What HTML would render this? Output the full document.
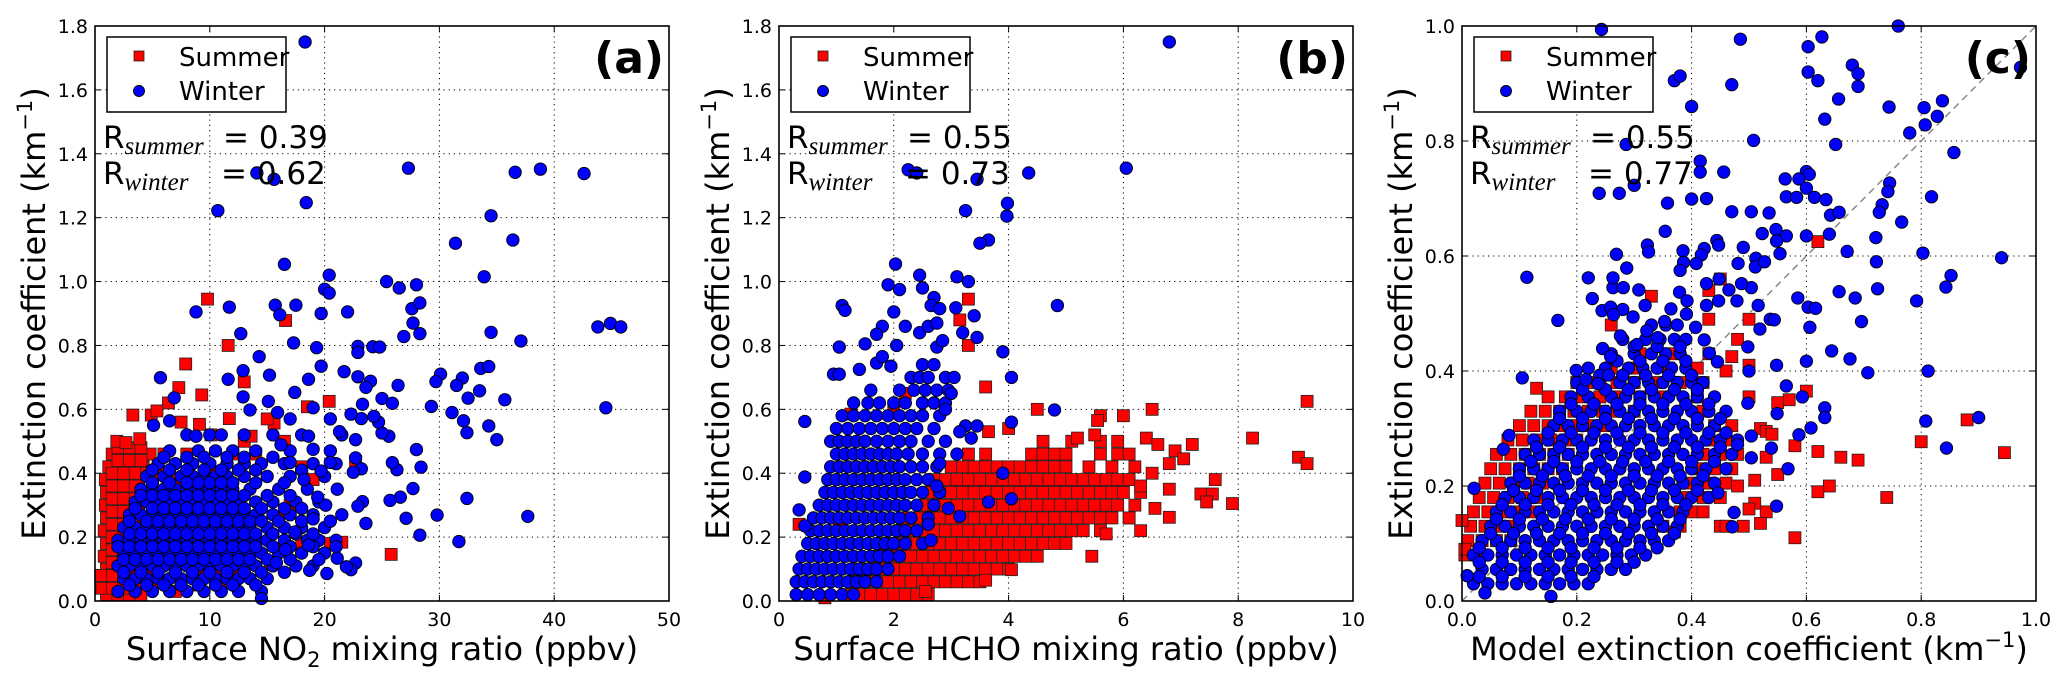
<!DOCTYPE html>
<html><head><meta charset="utf-8"><style>
html,body{margin:0;padding:0;background:#fff}
svg{display:block}
text{font-family:"DejaVu Sans","Liberation Sans",sans-serif;fill:#000}
</style></head><body>
<svg id="fig" width="2067" height="683" viewBox="0 0 2067 683" xmlns="http://www.w3.org/2000/svg"></svg>
<script>
// ---------- DATA ----------
// Panel (a): Surface NO2 (ppbv) vs extinction
const aSummerRows = [
 ".02|1 2 3 4", ".06|0.8 1.8 2.8 3.8 5", ".10|1 2 3 4 7 9 11", ".14|0.8 1.8 2.8 3.8 5.5 8", ".18|1 2 3 4.5 6 10 14 18 20.5",
 ".22|0.8 1.8 2.8 3.8 5 7", ".26|1 2 3 4 6 9 16", ".30|0.9 1.8 2.8 3.8 5 8 17", ".34|1 2 3 4.2 6 11",
 ".38|0.9 1.8 2.8 3.8 5 7 9 19", ".42|1.2 2.2 3.2 4.2 5.5 10 18", ".46|1.5 2.5 3.5 4.8 6 8 12 14", ".50|13 16.5",
 ".04|0.6 1.5 2.5 3.5", ".08|0.6 1.5 2.5 3.5 4.5", ".12|1.5 2.5 3.5 4.5", ".16|1.5 2.5 3.5", ".20|1.5 2.5 3.5",
 ".24|1.5 2.5 3.5 4.5", ".28|1.5 2.5 3.5", ".32|1.5 2.5 3.5 4.5", ".36|1.5 2.5 3.5", ".40|1.5 2.5 3.5 4.5", ".44|2 3 4", ".48|2 3 4"
];
const aSummerPts = "9.8,0.945 16.6,0.878 11.6,0.80 7.9,0.742 7.3,0.668 13,0.686 9.3,0.645 6.4,0.62 18.5,0.608 3.3,0.582 4.9,0.582 5.4,0.595 7.5,0.56 11.7,0.571 20.4,0.625 25.8,0.146 21.5,0.184 18.6,0.182 16.5,0.164 15.3,0.113 22.7,0.437 1.9,0.5 2.7,0.496 3.9,0.508 0.5,0.08 9.1,0.553 10.1,0.52 13.6,0.516 15.6,0.557 15,0.57 12,0.08 11,0.06 9,0.05 7,0.03";
const aWinterRows = [
 ".03|2 3.5 5 6.5 8 9.5 11 12.5 14.5", ".07|2.5 3.5 4.5 5.5 6.5 7.5 8.5 9.5 10.5 11.5 12.5 13.5 15",
 ".11|2 3 4 5 6 7 8 9 10 11 12 13 14 15.5 17.5 19", ".15|2.5 3.5 4.5 5.5 6.5 7.5 8.5 9.5 10.5 11.5 12.5 13.5 14.5 16 18 20",
 ".19|2 3 4 5 6 7 8 9 10 11 12 13 14 15 16.5 18.5 19.5 21", ".23|2.5 3.5 4.5 5.5 6.5 7.5 8.5 9.5 10.5 11.5 12.5 13.5 15 16.5 18 20",
 ".27|3 4 5 6 7 8 9 10 11 12 13 14 15.5 17 19", ".31|3.5 4.5 5.5 6.5 7.5 8.5 9.5 10.5 11.5 12.5 14 15.5 17.5 19.5",
 ".35|4 5 6 7 8 9 10 11 12 13.5 16 18.5", ".39|4.5 6 7.5 8.5 9.5 10.5 11.5 13 15 17 20",
 ".43|5.5 7 8.5 10 11.5 13 14.5 16.5 19 21", ".47|6.5 9 10.5 12 14 17 20.5", ".52|8 10 11 13 15.5 18 21.5",
 ".05|3 4.5 6 7.5 9 10.5 12 14", ".09|2.5 4 5.5 7 8.5 10 11.5 13 14.5 16.5",
 ".13|2.5 3.5 4.5 5.5 6.5 7.5 8.5 9.5 10.5 11.5 12.5 13.5 15 17 19.5",
 ".17|2 3 4 5 6 7 8 9 10 11 12 13 14 15.5 17 19 21", ".21|3 4 5 6 7 8 9 10 11 12 13 14 15.5 17.5 19",
 ".25|3 4.5 5.5 6.5 7.5 8.5 9.5 10.5 11.5 12.5 13.5 14.5 16 18 20.5", ".29|3.5 5 6 7 8 9 10 11 12 13 14.5 16.5 18",
 ".33|4 5 6 7 8 9 10 11 12 13 15 17", ".37|5 6.5 8 9 10 11 12 14 16.5", ".41|5 6.5 8 9.5 11 12.5 14 18", ".45|6 8 9.5 11.5 13 15.5"
];
const aWinterPts = "18.3,1.75 27.3,1.355 36.6,1.342 38.8,1.352 42.6,1.338 14.1,1.34 15.6,1.32 18.4,1.247 10.7,1.222 34.5,1.206 31.4,1.12 36.4,1.13 16.5,1.054 33.9,1.015 20.4,1.02 25.4,1.0 26.5,0.98 28,0.99 20,0.976 20.4,0.964 8.8,0.905 11.7,0.92 15.7,0.926 17.5,0.926 16.1,0.896 19.7,0.9 22,0.905 27.6,0.915 28.3,0.933 27.7,0.87 28.3,0.837 26.9,0.828 43.8,0.858 44.9,0.869 45.8,0.858 34.5,0.841 37.1,0.814 44.5,0.605 12.7,0.837 14.3,0.765 15.2,0.707 17.3,0.808 19.3,0.793 22.9,0.797 24.2,0.796 24.8,0.795 22.9,0.778 21.7,0.718 33.6,0.728 34.3,0.734 30.1,0.71 29.7,0.687 32,0.698 31.5,0.675 26.4,0.675 32.5,0.635 33.5,0.658 35.7,0.63 31.1,0.59 29.3,0.609 32.1,0.564 32.4,0.527 34.3,0.548 35,0.505 32.4,0.321 29.8,0.269 31.7,0.186 37.7,0.265 28.3,0.206 28.4,0.419 28,0.474 27.7,0.352 27.1,0.259 26.6,0.325 25.7,0.315 26.3,0.411 25.9,0.433 25.6,0.516 25,0.526 24.7,0.56 25,0.634 25.9,0.619 23.3,0.616 24,0.688 23.6,0.669 22.9,0.702 24.3,0.578 23.2,0.571 22.3,0.585 22.7,0.505 22.7,0.448 23.2,0.414 22.5,0.403 23.3,0.311 22.9,0.297 23.6,0.243 22.7,0.119 22.3,0.098 21.9,0.107 21.1,0.134 20.2,0.086 18.7,0.096 14.5,0.008 15.9,0.59 17,0.57 19,0.605 20.5,0.57 21.3,0.53 19,0.475 20.5,0.434 21.1,0.35 21.5,0.27 20.1,0.3 19,0.257 17.4,0.216 16.6,0.161 15.8,0.12 18.6,0.175 19.4,0.325 18.2,0.38 17,0.434 16.2,0.489 18.6,0.516 19.7,0.407 17.4,0.653 18.6,0.694 19.7,0.735 15.1,0.625 13.5,0.598 12.9,0.639 11.6,0.694 12.9,0.721 8.8,0.516 5.7,0.699 6.9,0.636 6.5,0.564 5.1,0.55";

// Panel (b): Surface HCHO (ppbv) vs extinction
const bSummerRows = [
 ".02|1.2 1.4 1.6 1.8 2.0 2.2 2.4 2.6", ".06|1.3 1.5 1.7 1.9 2.1 2.3 2.5 2.7 2.9 3.1 3.3 3.5",
 ".10|1.4 1.6 1.8 2.0 2.2 2.4 2.6 2.8 3.0 3.2 3.4 3.6 3.8 4.0",
 ".14|1.7 1.9 2.1 2.3 2.5 2.7 2.9 3.1 3.3 3.5 3.7 3.9 4.1 4.3 4.5",
 ".18|1.8 2.0 2.2 2.4 2.6 2.8 3.0 3.2 3.4 3.6 3.8 4.0 4.2 4.4 4.6 4.8 5.0",
 ".22|2.1 2.3 2.5 2.7 2.9 3.1 3.3 3.5 3.7 3.9 4.1 4.3 4.5 4.7 4.9 5.1 5.3 5.6",
 ".26|2.2 2.4 2.6 2.8 3.0 3.2 3.4 3.6 3.8 4.0 4.2 4.4 4.6 4.8 5.0 5.2 5.4 5.6 5.8 6.1",
 ".30|2.5 2.7 2.9 3.1 3.3 3.5 3.7 3.9 4.1 4.3 4.5 4.7 4.9 5.1 5.3 5.5 5.7 5.9 6.2",
 ".34|2.6 2.8 3.0 3.2 3.4 3.6 3.8 4.0 4.2 4.4 4.6 4.8 5.0 5.2 5.4 5.6 5.8 6.0 6.3",
 ".38|2.7 2.9 3.1 3.3 3.5 3.7 3.9 4.1 4.3 4.5 4.7 4.9 5.1 5.3 5.5 5.7 5.9 6.1",
 ".42|3.0 3.2 3.4 3.6 3.8 4.0 4.2 4.4 4.6 4.8 5.0 5.4 5.8 6.2",
 ".46|3.3 3.6 4.4 4.6 4.8 5.0 5.6 5.9 6.1", ".50|4.6 5.1 5.6 5.9"
];
const bSummerPts = "3.3,0.945 3.15,0.88 3.3,0.8 3.6,0.67 4.5,0.6 5.6,0.58 5.55,0.565 6,0.58 6.5,0.6 5.2,0.51 5.5,0.52 6.4,0.51 6.6,0.49 7.2,0.49 6.9,0.47 7.05,0.445 6.8,0.43 8.25,0.51 9.2,0.625 9.05,0.45 9.2,0.43 7.6,0.38 7.35,0.335 7.55,0.335 7.45,0.31 7.9,0.305 6.8,0.35 6.55,0.29 6.8,0.262 6.3,0.22 5.45,0.14 5.7,0.21 4.0,0.54 3.65,0.53 4.05,0.098 3.6,0.065 2.55,0.03 1.25,0.585 1.05,0.24 0.35,0.24 0.8,0.01 2.0,0.61 2.2,0.65 6.5,0.4 6.3,0.36 6.1,0.26";
const bWinterRows = [
 ".02|0.3 0.5 0.7 0.9 1.1 1.3", ".06|0.3 0.45 0.6 0.75 0.9 1.05 1.2 1.35 1.5 1.7",
 ".10|0.35 0.5 0.65 0.8 0.95 1.1 1.25 1.4 1.55 1.7 1.9", ".14|0.4 0.55 0.7 0.85 1.0 1.15 1.3 1.45 1.6 1.75 1.9 2.1",
 ".18|0.5 0.65 0.8 0.95 1.1 1.25 1.4 1.55 1.7 1.85 2.0 2.2 2.5", ".22|0.55 0.7 0.85 1.0 1.15 1.3 1.45 1.6 1.75 1.9 2.05 2.2 2.4",
 ".26|0.6 0.75 0.9 1.05 1.2 1.35 1.5 1.65 1.8 1.95 2.1 2.3 2.6", ".30|0.7 0.85 1.0 1.15 1.3 1.45 1.6 1.75 1.9 2.05 2.2 2.4 2.7",
 ".34|0.8 0.95 1.1 1.25 1.4 1.55 1.7 1.85 2.0 2.15 2.3 2.5 2.8", ".38|0.85 1.0 1.15 1.3 1.45 1.6 1.75 1.9 2.05 2.2 2.4 2.6",
 ".42|0.9 1.05 1.2 1.35 1.5 1.65 1.8 1.95 2.1 2.3 2.5 2.75", ".46|1.0 1.15 1.3 1.45 1.6 1.75 1.9 2.05 2.25 2.5 2.8",
 ".50|0.9 1.05 1.2 1.35 1.5 1.7 1.9 2.1 2.3 2.6 2.9", ".54|1.0 1.2 1.4 1.6 1.8 2.0 2.2 2.4 2.7",
 ".58|1.1 1.3 1.5 1.7 1.9 2.1 2.3 2.5 2.8", ".62|1.3 1.55 1.75 2.0 2.2 2.5 2.7 2.9",
 ".66|1.6 2.1 2.35 2.55 2.75 2.95", ".70|2.3 2.45 2.6 2.9 3.05", ".74|2.5 2.7"
];
const bWinterPts = "6.8,1.75 6.05,1.355 4.35,1.34 2.25,1.35 2.4,1.34 3.45,1.32 3.98,1.245 3.97,1.205 3.25,1.222 3.65,1.13 3.5,1.12 2.03,1.055 3.1,1.015 3.3,1.0 2.45,1.02 2.5,0.98 1.9,0.99 2.1,0.975 4.85,0.925 1.1,0.925 1.15,0.91 2,0.905 2.7,0.95 2.65,0.925 2.8,0.915 3.08,0.918 3.4,0.893 2.2,0.86 1.8,0.86 1.7,0.835 2.45,0.84 2.6,0.86 2.75,0.87 3.2,0.84 3.45,0.825 3.9,0.78 1.05,0.795 1.5,0.805 2.05,0.8 2.75,0.795 2.85,0.815 0.95,0.71 1.05,0.71 1.4,0.725 1.7,0.745 1.8,0.765 1.95,0.735 4.05,0.7 4.8,0.598 4.05,0.56 0.45,0.562 0.45,0.388 0.35,0.285 0.45,0.235 3.25,0.548 3.45,0.548 3.15,0.53 3.35,0.51 3.1,0.46 3.9,0.4 4.05,0.32 3.65,0.31 3.15,0.265 2.95,0.29 2.65,0.19 2.9,0.6 3.0,0.65 2.8,0.43 2.75,0.36 2.6,0.24";

// Panel (c): Model vs measured extinction
const cSummerRows = [
 ".08|.005 .03", ".105|.01 .035 .06 .085", ".13|.015 .04 .065 .09 .35 .38 .45",
 ".155|.02 .045 .07 .095 .12 .38 .4 .42", ".18|.03 .055 .08 .105 .13 .39 .42 .45",
 ".205|.04 .065 .09 .115 .14 .4 .43 .46", ".23|.05 .075 .1 .125 .15 .175 .41 .44 .47",
 ".255|.06 .085 .11 .135 .16 .185 .42 .45 .48", ".28|.08 .105 .13 .155 .18 .2 .43 .46",
 ".305|.1 .125 .15 .175 .2 .225 .25 .44 .47", ".33|.12 .145 .17 .195 .22 .245 .27 .3 .42",
 ".355|.15 .18 .21 .24 .27 .31 .35 .41", ".38|.2 .23 .27 .3 .34 .38 .42", ".405|.26 .3 .36 .41", ".43|.31 .37 .43"
];
const cSummerPts = "0.62,0.625 0.45,0.56 0.43,0.54 0.26,0.48 0.43,0.49 0.33,0.53 0.48,0.455 0.5,0.49 0.47,0.425 0.46,0.40 0.5,0.41 0.13,0.37 0.6,0.365 0.55,0.345 0.5,0.355 0.57,0.35 0.52,0.30 0.53,0.295 0.54,0.29 0.58,0.27 0.62,0.26 0.66,0.25 0.69,0.245 0.88,0.315 0.80,0.277 0.945,0.258 0.74,0.18 0.64,0.2 0.62,0.19 0.53,0.25 0.51,0.21 0.55,0.22 0.51,0.17 0.5,0.16 0.53,0.155 0.49,0.13 0.52,0.135 0.58,0.11 0.46,0.13 0.0,0.14 0.005,0.09 0.37,0.12 0.48,0.2";
const cWinterRows = [
 ".03|.02 .045 .07 .095 .12 .145 .17 .195 .22", ".055|.035 .06 .085 .11 .135 .16 .185 .21 .235 .26 .285",
 ".08|.02 .045 .07 .095 .12 .145 .17 .195 .22 .245 .27 .295 .32",
 ".105|.035 .06 .085 .11 .135 .16 .185 .21 .235 .26 .285 .31 .335 .36",
 ".13|.05 .075 .1 .125 .15 .175 .2 .225 .25 .275 .3 .325 .35 .375",
 ".155|.06 .085 .11 .135 .16 .185 .21 .235 .26 .285 .31 .335 .36 .385",
 ".18|.075 .1 .125 .15 .175 .2 .225 .25 .275 .3 .325 .35 .375 .4 .43",
 ".205|.085 .11 .135 .16 .185 .21 .235 .26 .285 .31 .335 .36 .385 .41 .44",
 ".23|.1 .125 .15 .175 .2 .225 .25 .275 .3 .325 .35 .375 .4 .425 .46",
 ".255|.11 .135 .16 .185 .21 .235 .26 .285 .31 .335 .36 .385 .41 .44 .47",
 ".28|.125 .15 .175 .2 .225 .25 .275 .3 .325 .35 .375 .4 .425 .45 .48",
 ".305|.16 .185 .21 .235 .26 .285 .31 .335 .36 .385 .41 .44",
 ".33|.17 .2 .225 .25 .275 .3 .325 .35 .375 .4 .43 .46", ".355|.19 .22 .26 .285 .31 .335 .36 .385 .41 .44",
 ".38|.2 .24 .275 .3 .325 .35 .375 .4 .42", ".405|.22 .25 .29 .315 .34 .365 .39",
 ".43|.26 .3 .33 .355 .38", ".455|.28 .32 .345 .37 .39", ".48|.33 .355 .375",
 ".0425|.03 .07 .11 .15 .19 .23", ".0675|.03 .07 .11 .15 .19 .23 .27 .3",
 ".0925|.03 .07 .11 .15 .19 .23 .27 .31 .34", ".1175|.05 .09 .13 .17 .21 .25 .29 .33 .37",
 ".1425|.06 .1 .14 .18 .22 .26 .3 .34 .38", ".1675|.07 .11 .15 .19 .23 .27 .31 .35 .39",
 ".1925|.09 .13 .17 .21 .25 .29 .33 .37 .41", ".2175|.1 .14 .18 .22 .26 .3 .34 .38 .42",
 ".2425|.12 .16 .2 .24 .28 .32 .36 .4 .44", ".2675|.13 .17 .21 .25 .29 .33 .37 .41 .45",
 ".2925|.15 .19 .23 .27 .31 .35 .39 .43 .46", ".3175|.17 .21 .25 .29 .33 .37 .41 .45",
 ".3425|.19 .23 .27 .31 .35 .39 .43", ".3675|.21 .25 .29 .33 .37 .41",
 ".3925|.24 .28 .32 .36 .4", ".4175|.27 .31 .35 .39", ".4425|.3 .34 .38"
];
const cWinterPts = ".243,.994 .485,.977 .603,.964 .627,.981 .76,1.0 .973,.928 .603,.92 .62,.905 .47,.898 .37,.905 .38,.913 .68,.932 .69,.917 .69,.895 .40,.86 .656,.873 .744,.859 .805,.858 .837,.87 .828,.843 .807,.828 .632,.838 .78,.814 .651,.794 .508,.801 .857,.78 .286,.794 .415,.765 .415,.746 .456,.746 .6,.747 .605,.742 .563,.734 .587,.734 .745,.727 .742,.712 .30,.723 .239,.709 .274,.709 .40,.699 .426,.7 .565,.703 .583,.702 .6,.718 .614,.702 .634,.698 .642,.671 .657,.676 .732,.689 .727,.676 .818,.703 .766,.659 .358,.692 .47,.677 .504,.677 .535,.675 .523,.639 .547,.646 .565,.635 .548,.626 .6,.635 .64,.638 .354,.643 .323,.619 .325,.607 .269,.603 .287,.579 .385,.609 .444,.627 .447,.619 .422,.613 .417,.602 .408,.587 .386,.589 .38,.575 .49,.615 .512,.596 .511,.581 .481,.587 .527,.59 .554,.604 .671,.608 .721,.632 .722,.59 .803,.605 .94,.597 .852,.566 .843,.546 .724,.543 .657,.538 .685,.527 .792,.522 .585,.527 .603,.511 .616,.509 .606,.476 .696,.486 .676,.421 .644,.435 .707,.397 .6,.417 .548,.41 .812,.40 .565,.374 .808,.313 .9,.319 .844,.266 .632,.336 .632,.319 .593,.355 .587,.289 .608,.301 .549,.326 .539,.266 .568,.23 .548,.165 .474,.154 .471,.129 .446,.188 .504,.249 .504,.287 .48,.272 .498,.344 .5,.40 .498,.442 .519,.473 .537,.49 .544,.489 .516,.514 .504,.545 .487,.552 .479,.522 .465,.541 .447,.522 .426,.514 .448,.56 .426,.552 .113,.563 .167,.488 .105,.388 .082,.288 .072,.264 .021,.196 .009,.044 .04,.014 .155,.008 .22,.562 .227,.526 .244,.505 .263,.545 .263,.562 .281,.545 .259,.511 .28,.507 .264,.498 .298,.494 .245,.439 .259,.425 .276,.461 .199,.401 .216,.385 .237,.378 .255,.393 .305,.446 .322,.47 .319,.514 .308,.541 .341,.458 .353,.486 .364,.508 .379,.537 .392,.522 .391,.499 .407,.476 .422,.454 .431,.431 .445,.416";

const aXTicks = ["0","10","20","30","40","50"];
const bXTicks = ["0","2","4","6","8","10"];
const cXTicks = ["0.0","0.2","0.4","0.6","0.8","1.0"];
const abYTicks = ["0.0","0.2","0.4","0.6","0.8","1.0","1.2","1.4","1.6","1.8"];
const cYTicks = ["0.0","0.2","0.4","0.6","0.8","1.0"];
const rSummer = ["0.39","0.55","0.55"];
const rWinter = ["0.62","0.73","0.77"];

// ---------- HELPERS ----------
const NS = "http://www.w3.org/2000/svg";
const svg = document.getElementById("fig");
function mk(tag, attrs, parent) {
  const e = document.createElementNS(NS, tag);
  for (const k in attrs) e.setAttribute(k, attrs[k]);
  (parent || svg).appendChild(e);
  return e;
}
function parseRows(rows) {
  const out = [];
  rows.forEach(r => { const [y, xs] = r.split("|"); xs.trim().split(/\s+/).forEach(x => out.push([+x, +y])); });
  return out;
}
function parsePts(s) { return s.trim().split(/\s+/).map(p => p.split(",").map(Number)); }

const T = 26, B = 601, W = 574;
function panel(idx, L, xMax, yMax, xTicks, yTicks, summer, winter, letter, xlabelHTML, diag) {
  const g = mk("g", {});
  
  
  const H = B - T;
  const sx = v => L + v / xMax * W;
  const sy = v => B - v / yMax * H;
  const grid = mk("g", {}, g);
  
  
  xTicks.forEach((t, i) => {
    const x = L + i * W / (xTicks.length - 1);
    if (i > 0 && i < xTicks.length - 1) mk("line", {x1:x, y1:T, x2:x, y2:B, stroke:"#000", "stroke-width":1, "stroke-dasharray":"1.2,4"}, grid);
    mk("line", {x1:x, y1:B, x2:x, y2:B-6, stroke:"#000"}, grid);
    mk("line", {x1:x, y1:T, x2:x, y2:T+6, stroke:"#000"}, grid);
    const tl = mk("text", {x:x, y:626, "font-size":19, "text-anchor":"middle"}, g);
    tl.textContent = t;
    
    
  });
  yTicks.forEach((t, i) => {
    const y = B - i * H / (yTicks.length - 1);
    if (i > 0 && i < yTicks.length - 1) mk("line", {x1:L, y1:y, x2:L+W, y2:y, stroke:"#000", "stroke-width":1, "stroke-dasharray":"1.2,4"}, grid);
    mk("line", {x1:L, y1:y, x2:L+6, y2:y, stroke:"#000"}, grid);
    mk("line", {x1:L+W, y1:y, x2:L+W-6, y2:y, stroke:"#000"}, grid);
    const tl = mk("text", {x:L-7, y:y+7, "font-size":19, "text-anchor":"end"}, g);
    tl.textContent = t;
    
    
  });
  const clip = mk("clipPath", {id:"clip"+idx}, g);
  mk("rect", {x:L-8, y:T-8, width:W+16, height:H+16}, clip);
  const marks = mk("g", {"clip-path":"url(#clip"+idx+")"}, g);
  if (diag) {
    const dl = mk("line", {x1:sx(0), y1:sy(0), x2:sx(1), y2:sy(1), stroke:"#888", "stroke-width":1.5, "stroke-dasharray":"7,5"}, marks);
    
    
  }
  summer.forEach(p => {
    const r = mk("rect", {x:sx(p[0])-6, y:sy(p[1])-6, width:12, height:12, fill:"#f00", stroke:"#222", "stroke-width":0.8}, marks);
    
    
  });
  winter.forEach(p => {
    const c = mk("circle", {cx:sx(p[0]), cy:sy(p[1]), r:6.2, fill:"#00f", stroke:"#000", "stroke-width":0.9}, marks);
    
    
  });
  const frame = mk("rect", {x:L, y:T, width:W, height:H, fill:"none", stroke:"#000", "stroke-width":1.6}, g);
  
  
  // legend
  const lg = mk("g", {}, g);
  
  
  mk("rect", {x:L+12, y:37, width:179, height:75, fill:"#fff", stroke:"#000", "stroke-width":1.5}, lg);
  mk("rect", {x:L+44-5, y:56-5, width:10, height:10, fill:"#f00", stroke:"#222", "stroke-width":0.8}, lg);
  mk("circle", {cx:L+44, cy:91, r:5.5, fill:"#00f", stroke:"#000", "stroke-width":0.9}, lg);
  const t1 = mk("text", {x:L+84, y:66, "font-size":26}, lg); t1.textContent = "Summer";
   
  const t2 = mk("text", {x:L+84, y:100, "font-size":26}, lg); t2.textContent = "Winter";
   
  // R annotations
  const r1 = mk("text", {x:L+8, y:148, "font-size":31}, g);
  r1.innerHTML = 'R<tspan font-family="Liberation Serif, serif" font-style="italic" font-size="25" dy="6">summer</tspan><tspan x="'+(L+128)+'" dy="-6">= '+rSummer[idx]+'</tspan>';
   
  const r2 = mk("text", {x:L+8, y:184, "font-size":31}, g);
  r2.innerHTML = 'R<tspan font-family="Liberation Serif, serif" font-style="italic" font-size="25" dy="6">winter</tspan><tspan x="'+(L+126)+'" dy="-6">= '+rWinter[idx]+'</tspan>';
   
  const pl = mk("text", {x:L+W-5, y:73, "font-size":44, "font-weight":"bold", "text-anchor":"end"}, g);
  pl.textContent = "(" + letter + ")";
   
  const yl = mk("text", {x:0, y:0, "font-size":32, "text-anchor":"middle", transform:"translate("+(L-50)+","+((T+B)/2)+") rotate(-90)"}, g);
  yl.innerHTML = 'Extinction coefficient (km<tspan font-size="21" dy="-13">−1</tspan><tspan dy="13">)</tspan>';
   
  const xl = mk("text", {x:L+W/2, y:660, "font-size":32, "text-anchor":"middle"}, g);
  xl.innerHTML = xlabelHTML;
   
}

panel(0, 95, 50, 1.8, aXTicks, abYTicks, parseRows(aSummerRows).concat(parsePts(aSummerPts)), parseRows(aWinterRows).concat(parsePts(aWinterPts)), "a",
  'Surface NO<tspan font-size="21" dy="7">2</tspan><tspan dy="-7"> mixing ratio (ppbv)</tspan>', false);
panel(1, 779, 10, 1.8, bXTicks, abYTicks, parseRows(bSummerRows).concat(parsePts(bSummerPts)), parseRows(bWinterRows).concat(parsePts(bWinterPts)), "b",
  'Surface HCHO mixing ratio (ppbv)', false);
panel(2, 1462, 1, 1, cXTicks, cYTicks, parseRows(cSummerRows).concat(parsePts(cSummerPts)), parseRows(cWinterRows).concat(parsePts(cWinterPts)), "c",
  'Model extinction coefficient (km<tspan font-size="21" dy="-13">−1</tspan><tspan dy="13">)</tspan>', true);
</script>
</body></html>
